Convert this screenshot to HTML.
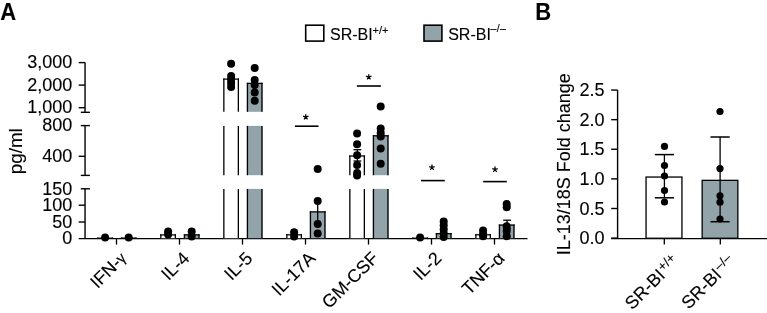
<!DOCTYPE html>
<html><head><meta charset="utf-8"><style>
html,body{margin:0;padding:0;background:#fff;}
svg{display:block;font-family:"Liberation Sans", sans-serif;will-change:transform;}
text{stroke:#000;stroke-width:0.12px;}
</style></head><body>
<svg width="767" height="313" viewBox="0 0 767 313" font-family='"Liberation Sans", sans-serif' fill="#000">
<rect width="767" height="313" fill="#fff"/>
<text transform="translate(0.3 20.4) scale(0.945 1)" font-size="23.3" font-weight="bold">A</text>
<rect x="305.70" y="25.20" width="18.10" height="15.90" fill="#fff" stroke="#000" stroke-width="1.6"/>
<rect x="424.00" y="25.20" width="17.90" height="15.90" fill="#92a4aa" stroke="#000" stroke-width="1.6"/>
<text x="330.0" y="39.6" font-size="16">SR-BI</text>
<text x="372.6" y="33.7" font-size="11">+/+</text>
<text x="448.2" y="39.6" font-size="16">SR-BI</text>
<text x="490.6" y="31.9" font-size="10.5">–<tspan dx="0.4">/</tspan><tspan dx="0.3">–</tspan></text>
<line x1="85.05" y1="62.6" x2="85.05" y2="112.3" stroke="#000" stroke-width="1.4"/>
<line x1="85.05" y1="125.6" x2="85.05" y2="175.4" stroke="#000" stroke-width="1.4"/>
<line x1="85.05" y1="188.9" x2="85.05" y2="238.4" stroke="#000" stroke-width="1.4"/>
<line x1="78.7" y1="62.6" x2="85.05" y2="62.6" stroke="#000" stroke-width="1.4"/>
<line x1="78.7" y1="85.1" x2="85.05" y2="85.1" stroke="#000" stroke-width="1.4"/>
<line x1="78.7" y1="107.7" x2="85.05" y2="107.7" stroke="#000" stroke-width="1.4"/>
<line x1="78.7" y1="156.3" x2="85.05" y2="156.3" stroke="#000" stroke-width="1.4"/>
<line x1="78.7" y1="205.2" x2="85.05" y2="205.2" stroke="#000" stroke-width="1.4"/>
<line x1="78.7" y1="222.0" x2="85.05" y2="222.0" stroke="#000" stroke-width="1.4"/>
<line x1="80.8" y1="112.3" x2="89.9" y2="112.3" stroke="#000" stroke-width="1.4"/>
<line x1="80.8" y1="125.6" x2="89.9" y2="125.6" stroke="#000" stroke-width="1.4"/>
<line x1="80.8" y1="175.4" x2="89.9" y2="175.4" stroke="#000" stroke-width="1.4"/>
<line x1="80.8" y1="188.8" x2="89.9" y2="188.8" stroke="#000" stroke-width="1.4"/>
<line x1="78.7" y1="238.5" x2="527.5" y2="238.5" stroke="#000" stroke-width="1.25"/>
<text x="72.3" y="68.2" font-size="18" text-anchor="end">3,000</text>
<text x="72.3" y="90.7" font-size="18" text-anchor="end">2,000</text>
<text x="72.3" y="113.3" font-size="18" text-anchor="end">1,000</text>
<text x="72.3" y="131.2" font-size="18" text-anchor="end">800</text>
<text x="72.3" y="161.9" font-size="18" text-anchor="end">400</text>
<text x="72.3" y="194.5" font-size="18" text-anchor="end">150</text>
<text x="72.3" y="210.8" font-size="18" text-anchor="end">100</text>
<text x="72.3" y="227.6" font-size="18" text-anchor="end">50</text>
<text x="72.3" y="243.8" font-size="18" text-anchor="end">0</text>
<text x="22.1" y="151.2" font-size="18.8" text-anchor="middle" transform="rotate(-90 22.1 151.2)">pg/ml</text>
<line x1="116.5" y1="238.2" x2="116.5" y2="244.6" stroke="#000" stroke-width="1.3"/>
<line x1="179.5" y1="238.2" x2="179.5" y2="244.6" stroke="#000" stroke-width="1.3"/>
<line x1="242.5" y1="238.2" x2="242.5" y2="244.6" stroke="#000" stroke-width="1.3"/>
<line x1="305.5" y1="238.2" x2="305.5" y2="244.6" stroke="#000" stroke-width="1.3"/>
<line x1="368.5" y1="238.2" x2="368.5" y2="244.6" stroke="#000" stroke-width="1.3"/>
<line x1="431.5" y1="238.2" x2="431.5" y2="244.6" stroke="#000" stroke-width="1.3"/>
<line x1="494.5" y1="238.2" x2="494.5" y2="244.6" stroke="#000" stroke-width="1.3"/>
<rect x="97.19999999999999" y="237.6" width="15.8" height="0.5999999999999943" fill="#fff"/>
<line x1="97.85" y1="237.6" x2="97.85" y2="238.2" stroke="#000" stroke-width="1.3"/>
<line x1="112.35" y1="237.6" x2="112.35" y2="238.2" stroke="#000" stroke-width="1.3"/>
<line x1="97.2" y1="238.2" x2="113.0" y2="238.2" stroke="#000" stroke-width="1.25"/>
<rect x="120.79999999999998" y="237.6" width="15.8" height="0.5999999999999943" fill="#92a4aa"/>
<line x1="121.45" y1="237.6" x2="121.45" y2="238.2" stroke="#000" stroke-width="1.3"/>
<line x1="135.95" y1="237.6" x2="135.95" y2="238.2" stroke="#000" stroke-width="1.3"/>
<line x1="120.8" y1="238.2" x2="136.6" y2="238.2" stroke="#000" stroke-width="1.25"/>
<rect x="160.2" y="234.3" width="15.8" height="3.8999999999999773" fill="#fff"/>
<line x1="160.85" y1="234.3" x2="160.85" y2="238.2" stroke="#000" stroke-width="1.3"/>
<line x1="175.35" y1="234.3" x2="175.35" y2="238.2" stroke="#000" stroke-width="1.3"/>
<line x1="160.2" y1="234.9" x2="176.0" y2="234.9" stroke="#000" stroke-width="1.25"/>
<rect x="183.79999999999998" y="234.3" width="15.8" height="3.8999999999999773" fill="#92a4aa"/>
<line x1="184.45" y1="234.3" x2="184.45" y2="238.2" stroke="#000" stroke-width="1.3"/>
<line x1="198.95" y1="234.3" x2="198.95" y2="238.2" stroke="#000" stroke-width="1.3"/>
<line x1="183.8" y1="234.9" x2="199.6" y2="234.9" stroke="#000" stroke-width="1.25"/>
<rect x="223.2" y="78.5" width="15.8" height="33.3" fill="#fff"/>
<line x1="223.85" y1="78.5" x2="223.85" y2="111.8" stroke="#000" stroke-width="1.3"/>
<line x1="238.35" y1="78.5" x2="238.35" y2="111.8" stroke="#000" stroke-width="1.3"/>
<line x1="223.2" y1="79.1" x2="239.0" y2="79.1" stroke="#000" stroke-width="1.25"/>
<rect x="223.2" y="125.9" width="15.8" height="49.29999999999998" fill="#fff"/>
<line x1="223.85" y1="125.9" x2="223.85" y2="175.2" stroke="#000" stroke-width="1.3"/>
<line x1="238.35" y1="125.9" x2="238.35" y2="175.2" stroke="#000" stroke-width="1.3"/>
<rect x="223.2" y="188.9" width="15.8" height="49.29999999999998" fill="#fff"/>
<line x1="223.85" y1="188.9" x2="223.85" y2="238.2" stroke="#000" stroke-width="1.3"/>
<line x1="238.35" y1="188.9" x2="238.35" y2="238.2" stroke="#000" stroke-width="1.3"/>
<rect x="246.79999999999998" y="82.8" width="15.8" height="29.0" fill="#92a4aa"/>
<line x1="247.45" y1="82.8" x2="247.45" y2="111.8" stroke="#000" stroke-width="1.3"/>
<line x1="261.95" y1="82.8" x2="261.95" y2="111.8" stroke="#000" stroke-width="1.3"/>
<line x1="246.8" y1="83.4" x2="262.6" y2="83.4" stroke="#000" stroke-width="1.25"/>
<rect x="246.79999999999998" y="125.9" width="15.8" height="49.29999999999998" fill="#92a4aa"/>
<line x1="247.45" y1="125.9" x2="247.45" y2="175.2" stroke="#000" stroke-width="1.3"/>
<line x1="261.95" y1="125.9" x2="261.95" y2="175.2" stroke="#000" stroke-width="1.3"/>
<rect x="246.79999999999998" y="188.9" width="15.8" height="49.29999999999998" fill="#92a4aa"/>
<line x1="247.45" y1="188.9" x2="247.45" y2="238.2" stroke="#000" stroke-width="1.3"/>
<line x1="261.95" y1="188.9" x2="261.95" y2="238.2" stroke="#000" stroke-width="1.3"/>
<rect x="286.20000000000005" y="234.2" width="15.8" height="4.0" fill="#fff"/>
<line x1="286.85" y1="234.2" x2="286.85" y2="238.2" stroke="#000" stroke-width="1.3"/>
<line x1="301.35" y1="234.2" x2="301.35" y2="238.2" stroke="#000" stroke-width="1.3"/>
<line x1="286.2" y1="234.8" x2="302.0" y2="234.8" stroke="#000" stroke-width="1.25"/>
<rect x="309.8" y="211.3" width="15.8" height="26.899999999999977" fill="#92a4aa"/>
<line x1="310.45" y1="211.3" x2="310.45" y2="238.2" stroke="#000" stroke-width="1.3"/>
<line x1="324.95" y1="211.3" x2="324.95" y2="238.2" stroke="#000" stroke-width="1.3"/>
<line x1="309.8" y1="211.9" x2="325.6" y2="211.9" stroke="#000" stroke-width="1.25"/>
<rect x="349.20000000000005" y="155.4" width="15.8" height="19.799999999999983" fill="#fff"/>
<line x1="349.85" y1="155.4" x2="349.85" y2="175.2" stroke="#000" stroke-width="1.3"/>
<line x1="364.35" y1="155.4" x2="364.35" y2="175.2" stroke="#000" stroke-width="1.3"/>
<line x1="349.2" y1="156.0" x2="365.0" y2="156.0" stroke="#000" stroke-width="1.25"/>
<rect x="349.20000000000005" y="188.9" width="15.8" height="49.29999999999998" fill="#fff"/>
<line x1="349.85" y1="188.9" x2="349.85" y2="238.2" stroke="#000" stroke-width="1.3"/>
<line x1="364.35" y1="188.9" x2="364.35" y2="238.2" stroke="#000" stroke-width="1.3"/>
<rect x="372.8" y="135.2" width="15.8" height="40.0" fill="#92a4aa"/>
<line x1="373.45" y1="135.2" x2="373.45" y2="175.2" stroke="#000" stroke-width="1.3"/>
<line x1="387.95" y1="135.2" x2="387.95" y2="175.2" stroke="#000" stroke-width="1.3"/>
<line x1="372.8" y1="135.8" x2="388.6" y2="135.8" stroke="#000" stroke-width="1.25"/>
<rect x="372.8" y="188.9" width="15.8" height="49.29999999999998" fill="#92a4aa"/>
<line x1="373.45" y1="188.9" x2="373.45" y2="238.2" stroke="#000" stroke-width="1.3"/>
<line x1="387.95" y1="188.9" x2="387.95" y2="238.2" stroke="#000" stroke-width="1.3"/>
<rect x="412.20000000000005" y="237.6" width="15.8" height="0.5999999999999943" fill="#fff"/>
<line x1="412.85" y1="237.6" x2="412.85" y2="238.2" stroke="#000" stroke-width="1.3"/>
<line x1="427.35" y1="237.6" x2="427.35" y2="238.2" stroke="#000" stroke-width="1.3"/>
<line x1="412.2" y1="238.2" x2="428.0" y2="238.2" stroke="#000" stroke-width="1.25"/>
<rect x="435.8" y="233.1" width="15.8" height="5.099999999999994" fill="#92a4aa"/>
<line x1="436.45" y1="233.1" x2="436.45" y2="238.2" stroke="#000" stroke-width="1.3"/>
<line x1="450.95" y1="233.1" x2="450.95" y2="238.2" stroke="#000" stroke-width="1.3"/>
<line x1="435.8" y1="233.7" x2="451.6" y2="233.7" stroke="#000" stroke-width="1.25"/>
<rect x="475.20000000000005" y="234.2" width="15.8" height="4.0" fill="#fff"/>
<line x1="475.85" y1="234.2" x2="475.85" y2="238.2" stroke="#000" stroke-width="1.3"/>
<line x1="490.35" y1="234.2" x2="490.35" y2="238.2" stroke="#000" stroke-width="1.3"/>
<line x1="475.2" y1="234.8" x2="491.0" y2="234.8" stroke="#000" stroke-width="1.25"/>
<rect x="498.8" y="224.5" width="15.8" height="13.699999999999989" fill="#92a4aa"/>
<line x1="499.45" y1="224.5" x2="499.45" y2="238.2" stroke="#000" stroke-width="1.3"/>
<line x1="513.95" y1="224.5" x2="513.95" y2="238.2" stroke="#000" stroke-width="1.3"/>
<line x1="498.8" y1="225.1" x2="514.6" y2="225.1" stroke="#000" stroke-width="1.25"/>
<line x1="357.4" y1="149.7" x2="357.4" y2="161.0" stroke="#000" stroke-width="1.3"/>
<line x1="353.5" y1="149.7" x2="361.3" y2="149.7" stroke="#000" stroke-width="1.3"/>
<line x1="353.5" y1="161.0" x2="361.3" y2="161.0" stroke="#000" stroke-width="1.3"/>
<line x1="317.7" y1="201.0" x2="317.7" y2="221.6" stroke="#000" stroke-width="1.3"/>
<line x1="317.7" y1="201.0" x2="317.7" y2="201.0" stroke="#000" stroke-width="1.3"/>
<line x1="317.7" y1="221.6" x2="317.7" y2="221.6" stroke="#000" stroke-width="1.3"/>
<line x1="507.1" y1="220.2" x2="507.1" y2="228.8" stroke="#000" stroke-width="1.3"/>
<line x1="503.2" y1="220.2" x2="511.0" y2="220.2" stroke="#000" stroke-width="1.3"/>
<line x1="503.2" y1="228.8" x2="511.0" y2="228.8" stroke="#000" stroke-width="1.3"/>
<circle cx="105.1" cy="237.6" r="4.0" fill="#000"/>
<circle cx="128.7" cy="237.6" r="4.0" fill="#000"/>
<circle cx="168.1" cy="231.6" r="4.0" fill="#000"/>
<circle cx="168.1" cy="234.6" r="4.0" fill="#000"/>
<circle cx="191.7" cy="231.5" r="4.0" fill="#000"/>
<circle cx="191.7" cy="236.5" r="4.0" fill="#000"/>
<circle cx="231.1" cy="63.7" r="4.0" fill="#000"/>
<circle cx="231.1" cy="76.0" r="4.0" fill="#000"/>
<circle cx="231.1" cy="79.5" r="4.0" fill="#000"/>
<circle cx="231.1" cy="83.0" r="4.0" fill="#000"/>
<circle cx="231.1" cy="87.0" r="4.0" fill="#000"/>
<circle cx="254.7" cy="67.9" r="4.0" fill="#000"/>
<circle cx="254.7" cy="80.0" r="4.0" fill="#000"/>
<circle cx="254.7" cy="85.0" r="4.0" fill="#000"/>
<circle cx="254.7" cy="92.5" r="4.0" fill="#000"/>
<circle cx="254.7" cy="100.7" r="4.0" fill="#000"/>
<circle cx="294.1" cy="232.2" r="4.0" fill="#000"/>
<circle cx="294.1" cy="236.4" r="4.0" fill="#000"/>
<circle cx="317.7" cy="169.0" r="4.0" fill="#000"/>
<circle cx="317.7" cy="200.9" r="4.0" fill="#000"/>
<circle cx="317.7" cy="224.0" r="4.0" fill="#000"/>
<circle cx="317.7" cy="233.4" r="4.0" fill="#000"/>
<circle cx="357.1" cy="133.5" r="4.0" fill="#000"/>
<circle cx="357.1" cy="144.2" r="4.0" fill="#000"/>
<circle cx="357.1" cy="155.2" r="4.0" fill="#000"/>
<circle cx="357.1" cy="165.0" r="4.0" fill="#000"/>
<circle cx="357.1" cy="173.0" r="4.0" fill="#000"/>
<circle cx="357.1" cy="175.4" r="4.0" fill="#000"/>
<circle cx="380.7" cy="106.6" r="4.0" fill="#000"/>
<circle cx="380.7" cy="128.6" r="4.0" fill="#000"/>
<circle cx="380.7" cy="133.0" r="4.0" fill="#000"/>
<circle cx="380.7" cy="136.4" r="4.0" fill="#000"/>
<circle cx="380.7" cy="148.4" r="4.0" fill="#000"/>
<circle cx="380.7" cy="163.7" r="4.0" fill="#000"/>
<circle cx="420.1" cy="237.4" r="4.0" fill="#000"/>
<circle cx="443.7" cy="221.6" r="4.0" fill="#000"/>
<circle cx="443.7" cy="225.3" r="4.0" fill="#000"/>
<circle cx="443.7" cy="229.2" r="4.0" fill="#000"/>
<circle cx="443.7" cy="233.2" r="4.0" fill="#000"/>
<circle cx="443.7" cy="237.1" r="4.0" fill="#000"/>
<circle cx="483.1" cy="230.4" r="4.0" fill="#000"/>
<circle cx="483.1" cy="234.0" r="4.0" fill="#000"/>
<circle cx="483.1" cy="236.2" r="4.0" fill="#000"/>
<circle cx="506.7" cy="204.0" r="4.0" fill="#000"/>
<circle cx="506.7" cy="207.2" r="4.0" fill="#000"/>
<circle cx="506.7" cy="226.3" r="4.0" fill="#000"/>
<circle cx="506.7" cy="231.0" r="4.0" fill="#000"/>
<circle cx="506.7" cy="236.2" r="4.0" fill="#000"/>
<line x1="294.9" y1="126.2" x2="318.5" y2="126.2" stroke="#000" stroke-width="1.6"/>
<path d="M305.75 117.10L305.75 114.20M305.75 117.10L308.51 116.20M305.75 117.10L307.45 119.45M305.75 117.10L304.05 119.45M305.75 117.10L302.99 116.20" stroke="#000" stroke-width="1.25" fill="none"/>
<line x1="356.9" y1="86.0" x2="380.9" y2="86.0" stroke="#000" stroke-width="1.6"/>
<path d="M368.75 77.10L368.75 74.20M368.75 77.10L371.51 76.20M368.75 77.10L370.45 79.45M368.75 77.10L367.05 79.45M368.75 77.10L365.99 76.20" stroke="#000" stroke-width="1.25" fill="none"/>
<line x1="421.0" y1="180.6" x2="444.8" y2="180.6" stroke="#000" stroke-width="1.6"/>
<path d="M431.95 167.50L431.95 164.60M431.95 167.50L434.71 166.60M431.95 167.50L433.65 169.85M431.95 167.50L430.25 169.85M431.95 167.50L429.19 166.60" stroke="#000" stroke-width="1.25" fill="none"/>
<line x1="483.2" y1="181.6" x2="506.8" y2="181.6" stroke="#000" stroke-width="1.6"/>
<path d="M495.00 169.50L495.00 166.60M495.00 169.50L497.76 168.60M495.00 169.50L496.70 171.85M495.00 169.50L493.30 171.85M495.00 169.50L492.24 168.60" stroke="#000" stroke-width="1.25" fill="none"/>
<text x="127.5" y="259.3" font-size="18" text-anchor="end" transform="rotate(-45 127.5 259.3)">IFN-<tspan font-size="15" dy="-0.5">γ</tspan></text>
<text x="190.5" y="259.3" font-size="18" text-anchor="end" transform="rotate(-45 190.5 259.3)">IL-4</text>
<text x="253.5" y="259.3" font-size="18" text-anchor="end" transform="rotate(-45 253.5 259.3)">IL-5</text>
<text x="316.5" y="259.3" font-size="18" text-anchor="end" transform="rotate(-45 316.5 259.3)">IL-17A</text>
<text x="379.5" y="259.3" font-size="18" text-anchor="end" transform="rotate(-45 379.5 259.3)">GM-CSF</text>
<text x="442.5" y="259.3" font-size="18" text-anchor="end" transform="rotate(-45 442.5 259.3)">IL-2</text>
<text x="505.5" y="259.3" font-size="18" text-anchor="end" transform="rotate(-45 505.5 259.3)">TNF-α</text>
<text transform="translate(535.3 20.4) scale(0.945 1)" font-size="23.3" font-weight="bold">B</text>
<line x1="617.6" y1="90.05" x2="617.6" y2="238.4" stroke="#000" stroke-width="1.4"/>
<line x1="611.2" y1="238.1" x2="617.6" y2="238.1" stroke="#000" stroke-width="1.4"/>
<text x="604.6" y="244.3" font-size="18" text-anchor="end">0.0</text>
<line x1="611.2" y1="208.49" x2="617.6" y2="208.49" stroke="#000" stroke-width="1.4"/>
<text x="604.6" y="214.69" font-size="18" text-anchor="end">0.5</text>
<line x1="611.2" y1="178.88" x2="617.6" y2="178.88" stroke="#000" stroke-width="1.4"/>
<text x="604.6" y="185.08" font-size="18" text-anchor="end">1.0</text>
<line x1="611.2" y1="149.27" x2="617.6" y2="149.27" stroke="#000" stroke-width="1.4"/>
<text x="604.6" y="155.47" font-size="18" text-anchor="end">1.5</text>
<line x1="611.2" y1="119.66" x2="617.6" y2="119.66" stroke="#000" stroke-width="1.4"/>
<text x="604.6" y="125.86" font-size="18" text-anchor="end">2.0</text>
<line x1="611.2" y1="90.05" x2="617.6" y2="90.05" stroke="#000" stroke-width="1.4"/>
<text x="604.6" y="96.25" font-size="18" text-anchor="end">2.5</text>
<line x1="611.2" y1="238.5" x2="767" y2="238.5" stroke="#000" stroke-width="1.25"/>
<text x="570.0" y="164.2" font-size="18" text-anchor="middle" transform="rotate(-90 570.0 164.2)">IL-13/18S Fold change</text>
<rect x="646.05" y="177.05" width="35.90" height="61.20" fill="#fff" stroke="#000" stroke-width="1.3"/>
<rect x="702.15" y="180.35" width="35.70" height="57.90" fill="#92a4aa" stroke="#000" stroke-width="1.3"/>
<line x1="664.4" y1="154.6" x2="664.4" y2="197.8" stroke="#000" stroke-width="1.3"/>
<line x1="654.8" y1="154.6" x2="674.0" y2="154.6" stroke="#000" stroke-width="1.5"/>
<line x1="654.8" y1="197.8" x2="674.0" y2="197.8" stroke="#000" stroke-width="1.5"/>
<line x1="720.1" y1="137.0" x2="720.1" y2="221.7" stroke="#000" stroke-width="1.3"/>
<line x1="710.5" y1="137.0" x2="729.7" y2="137.0" stroke="#000" stroke-width="1.5"/>
<line x1="710.5" y1="221.7" x2="729.7" y2="221.7" stroke="#000" stroke-width="1.5"/>
<circle cx="664.5" cy="146.4" r="3.6" fill="#000"/>
<circle cx="664.5" cy="165.5" r="3.6" fill="#000"/>
<circle cx="664.5" cy="176.0" r="3.6" fill="#000"/>
<circle cx="664.5" cy="190.5" r="3.6" fill="#000"/>
<circle cx="664.5" cy="202.0" r="3.6" fill="#000"/>
<circle cx="720.0" cy="111.5" r="3.6" fill="#000"/>
<circle cx="720.0" cy="168.6" r="3.6" fill="#000"/>
<circle cx="720.0" cy="195.8" r="3.6" fill="#000"/>
<circle cx="720.0" cy="202.2" r="3.6" fill="#000"/>
<circle cx="720.0" cy="219.0" r="3.6" fill="#000"/>
<line x1="664.3" y1="238.2" x2="664.3" y2="244.6" stroke="#000" stroke-width="1.3"/>
<line x1="720.3" y1="238.2" x2="720.3" y2="244.6" stroke="#000" stroke-width="1.3"/>
<text x="680.1" y="262.5" font-size="18" text-anchor="end" transform="rotate(-45 680.1 262.5)">SR-BI<tspan font-size="13" dx="1" dy="-5.6">+/+</tspan></text>
<text x="736.1" y="262.5" font-size="18" text-anchor="end" transform="rotate(-45 736.1 262.5)">SR-BI<tspan font-size="13" dx="1" dy="-5.6">–/–</tspan></text>
</svg></body></html>
